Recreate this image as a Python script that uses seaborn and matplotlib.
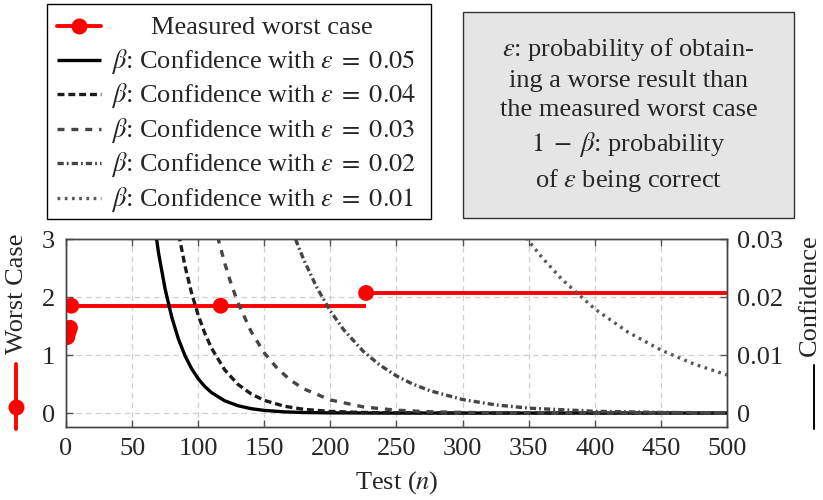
import numpy as np
import pandas as pd
import matplotlib
matplotlib.use("Agg")
import matplotlib.pyplot as plt
import seaborn as sns
from matplotlib.lines import Line2D
from matplotlib.patches import Rectangle

# ---------------- data ----------------
wc_n = [1, 2, 3, 4, 117, 227]
wc_val = [1.31, 1.40, 1.47, 1.85, 1.85, 2.07]

eps_labels = ["0.05", "0.04", "0.03", "0.02", "0.01"]

b05_n = [65, 70, 75, 80, 85, 90, 95, 100, 105, 110, 120, 130, 140, 150, 165, 180, 200, 250, 300, 500]
b05_v = [0.03564, 0.02760, 0.02135, 0.01652, 0.01278, 0.00989, 0.00765, 0.00592, 0.00458, 0.00354,
         0.00212, 0.00127, 0.000761, 0.000456, 0.000211, 0.0000981, 0.0000351, 0.0000027, 0.0000002, 0.0]

b04_n = [80, 85, 90, 95, 100, 105, 110, 120, 130, 140, 150, 165, 180, 200, 225, 250, 300, 500]
b04_v = [0.03814, 0.03113, 0.02537, 0.02068, 0.01687, 0.01376, 0.01122, 0.00746, 0.00496, 0.00330,
         0.00219, 0.00119, 0.000644, 0.000284, 0.000103, 0.0000367, 0.0000047, 0.0]

b03_n = [110, 115, 120, 125, 130, 140, 150, 160, 170, 180, 200, 225, 250, 275, 300, 350, 400, 500]
b03_v = [0.03507, 0.03012, 0.02586, 0.02220, 0.01907, 0.01406, 0.01037, 0.00765, 0.00564, 0.00416,
         0.00226, 0.00106, 0.000493, 0.000230, 0.000108, 0.0000235, 0.0000051, 0.0000002]

b02_n = [170, 175, 180, 190, 200, 210, 225, 237, 250, 262, 275, 300, 325, 350, 400, 450, 500]
b02_v = [0.03224, 0.02915, 0.02634, 0.02152, 0.01759, 0.01437, 0.01061, 0.00834, 0.00640, 0.00503,
         0.00387, 0.00233, 0.00141, 0.000850, 0.000309, 0.000113, 0.0000411]

b01_n = [345, 350, 360, 375, 400, 425, 450, 475, 500]
b01_v = [0.03120, 0.02968, 0.02684, 0.02307, 0.01795, 0.01396, 0.01086, 0.00845, 0.00657]

x_ticks = [0, 50, 100, 150, 200, 250, 300, 350, 400, 450, 500]
yl_ticks = [0, 1, 2, 3]
yr_ticks = [0, 0.01, 0.02, 0.03]
yr_tick_labels = ["0", "0.01", "0.02", "0.03"]

# ---------------- style ----------------
sns.set_theme(style="white")
plt.rcParams["font.family"] = ["Liberation Serif", "DejaVu Serif"]
plt.rcParams["mathtext.fontset"] = "stix"
plt.rcParams["lines.scale_dashes"] = False

FS = 19
W, H = 823, 500
RED = "#ff0000"
LW = 2.4

curve_styles = [
    dict(color="#000000", linestyle="-"),
    dict(color="#1c1c1c", linestyle=(0, (5, 2.8))),
    dict(color="#454545", linestyle=(0, (5, 5))),
    dict(color="#454545", linestyle=(0, (4.5, 2.2, 1.3, 2.2))),
    dict(color="#5a5a5a", linestyle=(0, (2.0, 3.2))),
]
curves = [(b05_n, b05_v), (b04_n, b04_v), (b03_n, b03_v), (b02_n, b02_v), (b01_n, b01_v)]


def fx(x):
    return x / W


def fy(y):
    return 1 - y / H


fig = plt.figure(figsize=(W / 100, H / 100), dpi=100)
ax = fig.add_axes([fx(66), fy(427), (727 - 66) / W, (427 - 239) / H])
ax2 = ax.twinx()

# worst case (left axis)
ends = wc_n[1:] + [500]
ax.hlines(wc_val, wc_n, ends, color=RED, lw=2.8, zorder=2)
sns.scatterplot(x=wc_n, y=wc_val, ax=ax, color=RED, s=130, edgecolor="none", zorder=3, legend=False)

# confidence curves (right axis)
for (n, v), st in zip(curves, curve_styles):
    df = pd.DataFrame({"n": n, "beta": v})
    sns.lineplot(data=df, x="n", y="beta", ax=ax2, lw=LW, estimator=None, sort=False,
                 solid_capstyle="butt", dash_capstyle="butt", **st)

ax.set_xlim(0, 500)
ax.set_ylim(-0.24, 3.0)
ax2.set_ylim(-0.0024, 0.03)

ax.set_xticks(x_ticks)
ax.set_xticklabels([str(t) for t in x_ticks])
ax.set_yticks(yl_ticks)
ax.set_yticklabels([str(t) for t in yl_ticks])
ax2.set_yticks(yr_ticks)
ax2.set_yticklabels(yr_tick_labels)

ax.grid(True, color="#cfcfcf", linestyle=(0, (4, 3)), lw=0.9)
ax.set_axisbelow(True)
ax2.grid(False)

ax.tick_params(axis="x", direction="in", length=5, width=1, color="#555555", bottom=True, top=True,
               labelsize=FS, pad=8)
ax.tick_params(axis="y", direction="in", length=5, width=1, color="#555555", left=True, right=False,
               labelsize=FS, pad=8)
ax2.tick_params(axis="y", direction="in", length=5, width=1, color="#555555", right=True, left=False,
                labelsize=FS, pad=7)
for a in (ax, ax2):
    for s in a.spines.values():
        s.set_color("#444444")
        s.set_linewidth(1.0)
    a.set_ylabel("")
ax.set_xlabel("Test ($n$)", fontsize=FS)
ax.xaxis.set_label_coords(0.5, -(483 - 427) / (427 - 239))
ax.xaxis.label.set_va("center")

# axis labels with legend icons
fig.text(fx(17), fy(294), "Worst Case", rotation=90, ha="center", va="center", fontsize=FS)
fig.add_artist(Line2D([fx(16), fx(16)], [fy(364), fy(429)], color=RED, lw=2.8, transform=fig.transFigure))
fig.add_artist(Line2D([fx(16)], [fy(407)], color=RED, marker="o", markersize=11.5, markeredgewidth=0,
                      transform=fig.transFigure))
fig.text(fx(810), fy(295), "Confidence", rotation=90, ha="center", va="center", fontsize=FS)
fig.add_artist(Line2D([fx(814), fx(814)], [fy(365), fy(429)], color="black", lw=1.4,
                      transform=fig.transFigure))

# legend box
fig.add_artist(Rectangle((fx(47), fy(219)), (431 - 47) / W, (219 - 4) / H, transform=fig.transFigure,
                         facecolor="white", edgecolor="black", lw=1.0))
row_y = [25.5, 59.9, 94.3, 128.7, 163.1, 197.5]
fig.add_artist(Line2D([fx(57), fx(101)], [fy(row_y[0])] * 2, color=RED, lw=2.8, transform=fig.transFigure))
fig.add_artist(Line2D([fx(79)], [fy(row_y[0])], color=RED, marker="o", markersize=11.5, markeredgewidth=0,
                      transform=fig.transFigure))
fig.text(fx(262), fy(row_y[0] + 8), "Measured worst case", ha="center", va="baseline", fontsize=FS)
for i, (lab, st) in enumerate(zip(eps_labels, curve_styles)):
    yy = row_y[i + 1]
    fig.add_artist(Line2D([fx(57), fx(101)], [fy(yy)] * 2, lw=LW, transform=fig.transFigure,
                          solid_capstyle="butt", dash_capstyle="butt", **st))
    fig.text(fx(111), fy(yy + 8), r"$\beta$: Confidence with $\varepsilon\;=\;%s$" % lab,
             ha="left", va="baseline", fontsize=FS)

# info box
fig.add_artist(Rectangle((fx(463), fy(218)), (794 - 463) / W, (218 - 12) / H, transform=fig.transFigure,
                         facecolor="#e5e5e5", edgecolor="#333333", lw=1.0))
fig.text(fx(628.5), fy(115),
         "$\\varepsilon$: probability of obtain-\ning a worse result than\nthe measured worst case\n"
         "$1\\;-\\;\\beta$: probability\nof $\\varepsilon$ being correct",
         ha="center", va="center", fontsize=FS, linespacing=1.42, multialignment="center")

fig.savefig("out.png", dpi=100)
